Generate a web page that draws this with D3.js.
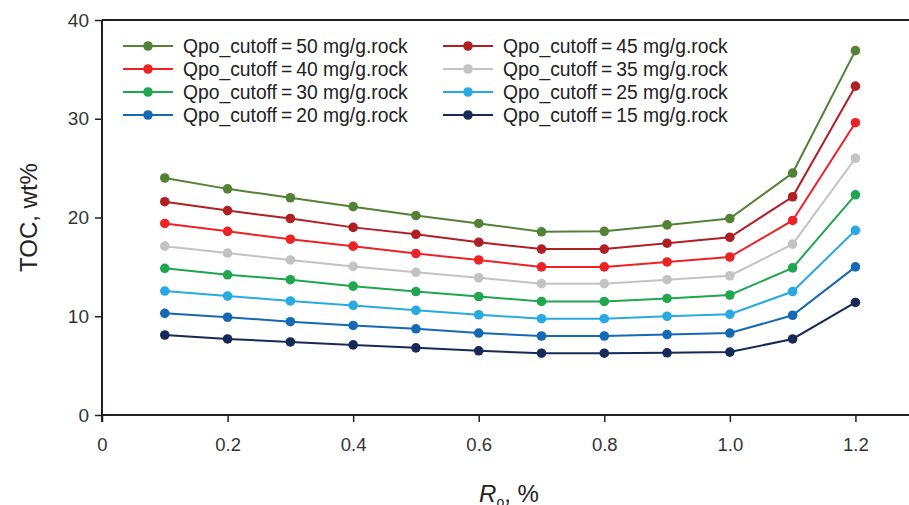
<!DOCTYPE html>
<html>
<head>
<meta charset="utf-8">
<script src="https://cdn.jsdelivr.net/npm/d3@7"></script>
<style>
  html, body { margin: 0; padding: 0; background: #fff; }
  svg { display: block; font-family: Arial, "Liberation Sans", sans-serif; }
</style>
</head>
<body>
<svg id="chart" width="909" height="505"></svg>
<script>
// Vitrinite reflectance (Ro, %) sample points
const ro = [0.1, 0.2, 0.3, 0.4, 0.5, 0.6, 0.7, 0.8, 0.9, 1.0, 1.1, 1.2];

// TOC (wt%) for each Qpo cutoff
const toc50 = [24.0, 22.9, 22.0, 21.1, 20.2, 19.4, 18.55, 18.6, 19.25, 19.9, 24.5, 36.9];
const toc45 = [21.6, 20.7, 19.9, 19.0, 18.3, 17.5, 16.8, 16.8, 17.4, 18.0, 22.1, 33.3];
const toc40 = [19.4, 18.6, 17.8, 17.1, 16.35, 15.7, 15.0, 15.0, 15.5, 16.0, 19.7, 29.6];
const toc35 = [17.1, 16.4, 15.7, 15.05, 14.45, 13.9, 13.3, 13.3, 13.7, 14.1, 17.3, 26.0];
const toc30 = [14.85, 14.2, 13.7, 13.05, 12.5, 12.0, 11.5, 11.5, 11.8, 12.15, 14.9, 22.3];
const toc25 = [12.55, 12.05, 11.55, 11.1, 10.6, 10.15, 9.75, 9.75, 10.0, 10.2, 12.5, 18.7];
const toc20 = [10.3, 9.9, 9.45, 9.07, 8.73, 8.3, 8.0, 8.0, 8.15, 8.3, 10.1, 15.0];
const toc15 = [8.1, 7.7, 7.4, 7.1, 6.8, 6.5, 6.26, 6.26, 6.3, 6.37, 7.7, 11.4];

const cutoffs = [50, 45, 40, 35, 30, 25, 20, 15];
const seriesValues = [toc50, toc45, toc40, toc35, toc30, toc25, toc20, toc15];
const seriesColors = ["#538135", "#b01f24", "#ed2224", "#c3c3c3", "#1fa64e", "#29a9e1", "#1569b4", "#172a57"];

const xTicks = [0, 0.2, 0.4, 0.6, 0.8, 1.0, 1.2];
const yTicks = [0, 10, 20, 30, 40];

const svg = d3.select("#chart");
const axisColor = "#231f20";

const x = d3.scaleLinear().domain([0, 1.4]).range([102, 981]);
const y = d3.scaleLinear().domain([0, 40]).range([415, 20]);

// Top frame line
svg.append("line")
  .attr("x1", x(0)).attr("x2", 909)
  .attr("y1", y(40)).attr("y2", y(40))
  .attr("stroke", axisColor).attr("stroke-width", 2);

// X axis
const xAxis = svg.append("g")
  .attr("transform", `translate(0,${y(0)})`)
  .call(d3.axisBottom(x).tickValues(xTicks).tickSize(7).tickPadding(16)
    .tickFormat(d => d === 0 ? "0" : d3.format(".1f")(d)));
xAxis.select(".domain").attr("stroke", axisColor).attr("stroke-width", 2)
  .attr("d", `M${x(0)},0H${x(1.4)}`);
xAxis.selectAll(".tick line").attr("stroke", axisColor).attr("stroke-width", 1.5);
xAxis.selectAll(".tick text").attr("fill", "#333").attr("font-size", 18.5)
  .attr("font-family", "Arial, 'Liberation Sans', sans-serif");

// Y axis
const yAxis = svg.append("g")
  .attr("transform", `translate(${x(0)},0)`)
  .call(d3.axisLeft(y).tickValues(yTicks).tickSize(7).tickPadding(6));
yAxis.select(".domain").attr("stroke", axisColor).attr("stroke-width", 2)
  .attr("d", `M0,${y(40)}V${y(0) + 7}`);
yAxis.selectAll(".tick line").attr("stroke", axisColor).attr("stroke-width", 1.5);
yAxis.selectAll(".tick text").attr("fill", "#333").attr("font-size", 19)
  .attr("font-family", "Arial, 'Liberation Sans', sans-serif");

// Axis titles
svg.append("text")
  .attr("transform", `translate(37,${(y(0) + y(40)) / 2}) rotate(-90)`)
  .attr("text-anchor", "middle")
  .attr("font-size", 24).attr("fill", "#222")
  .text("TOC, wt%");

const xt = svg.append("text")
  .attr("x", 509).attr("y", 502)
  .attr("text-anchor", "middle")
  .attr("font-size", 24).attr("fill", "#222");
xt.append("tspan").attr("font-style", "italic").text("R");
xt.append("tspan").attr("font-size", 14).attr("dy", 5).text("o");
xt.append("tspan").attr("dy", -5).text(", %");

// Series lines and markers
const line = d3.line().x((d, i) => x(ro[i])).y(d => y(d));
const plot = svg.append("g");
seriesValues.forEach((vals, s) => {
  plot.append("path")
    .attr("d", line(vals))
    .attr("fill", "none")
    .attr("stroke", seriesColors[s])
    .attr("stroke-width", 2);
  plot.selectAll(null).data(vals).enter().append("circle")
    .attr("cx", (d, i) => x(ro[i]))
    .attr("cy", d => y(d))
    .attr("r", 4.8)
    .attr("fill", seriesColors[s]);
});

// Legend in two columns
const legendCols = [123, 443];
const legendRows = [46, 69, 92, 115];
cutoffs.forEach((c, s) => {
  const col = s % 2, row = Math.floor(s / 2);
  const lx = legendCols[col], ly = legendRows[row];
  const g = svg.append("g").attr("transform", `translate(${lx},${ly})`);
  g.append("line").attr("x1", 0).attr("x2", 50).attr("y1", 0).attr("y2", 0)
    .attr("stroke", seriesColors[s]).attr("stroke-width", 2);
  g.append("circle").attr("cx", 25).attr("cy", 0).attr("r", 4.8).attr("fill", seriesColors[s]);
  const t = g.append("text").attr("x", 60).attr("y", 7)
    .attr("font-size", 19.3).attr("fill", "#222");
  t.append("tspan").text("Qpo_cutoff");
  t.append("tspan").attr("dx", 4).text("=");
  t.append("tspan").attr("dx", 4).text(`${c} mg/g.rock`);
});
</script>
</body>
</html>
